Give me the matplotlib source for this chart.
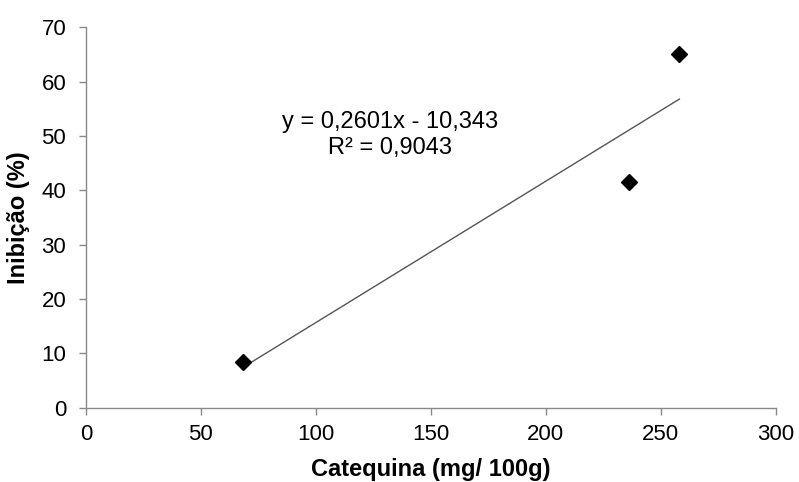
import matplotlib
matplotlib.use("Agg")
import matplotlib.pyplot as plt
import numpy as np

plt.rcParams['font.family'] = ['Liberation Sans', 'DejaVu Sans']

catequina = [68.4, 236.0, 258.1]
inibicao = [8.4, 41.6, 65.0]
slope = 0.2601
intercept = -10.343
r2 = 0.9043
xticks = [0, 50, 100, 150, 200, 250, 300]
yticks = [0, 10, 20, 30, 40, 50, 60, 70]

fig = plt.figure(figsize=(7.99, 4.82), dpi=100)
ax = fig.add_axes([0.1076, 0.1542, 0.8633, 0.7892])

xs = np.array([min(catequina), max(catequina)])
ax.plot(xs, slope * xs + intercept, color='#555555', lw=1.0, zorder=2)
ax.plot(catequina, inibicao, linestyle='none', marker='D', markersize=8,
        color='black', zorder=3)

ax.set_xlim(0, 300)
ax.set_ylim(0, 70)
ax.set_xticks(xticks)
ax.set_yticks(yticks)
for s in ['top', 'right']:
    ax.spines[s].set_visible(False)
for s in ['left', 'bottom']:
    ax.spines[s].set_color('#888888')
    ax.spines[s].set_linewidth(1.0)
ax.tick_params(axis='both', direction='out', length=4.7, width=1.0,
               color='#888888', labelsize=16, labelcolor='black')
ax.tick_params(axis='x', pad=7)
ax.tick_params(axis='y', pad=9.5)

ax.set_xlabel('Catequina (mg/ 100g)', fontsize=17, fontweight='bold', va='center')
ax.xaxis.set_label_coords(0.5, -0.163)
ax.set_ylabel('Inibição (%)', fontsize=17, fontweight='bold', va='center')
ax.yaxis.set_label_coords(-0.098, 0.5)

ax.text(132.2, 52.6, 'y = 0,2601x - 10,343', fontsize=17, ha='center', va='center')
ax.text(132.2, 47.8, 'R² = 0,9043', fontsize=17, ha='center', va='center')

fig.savefig('out.png', dpi=100)
